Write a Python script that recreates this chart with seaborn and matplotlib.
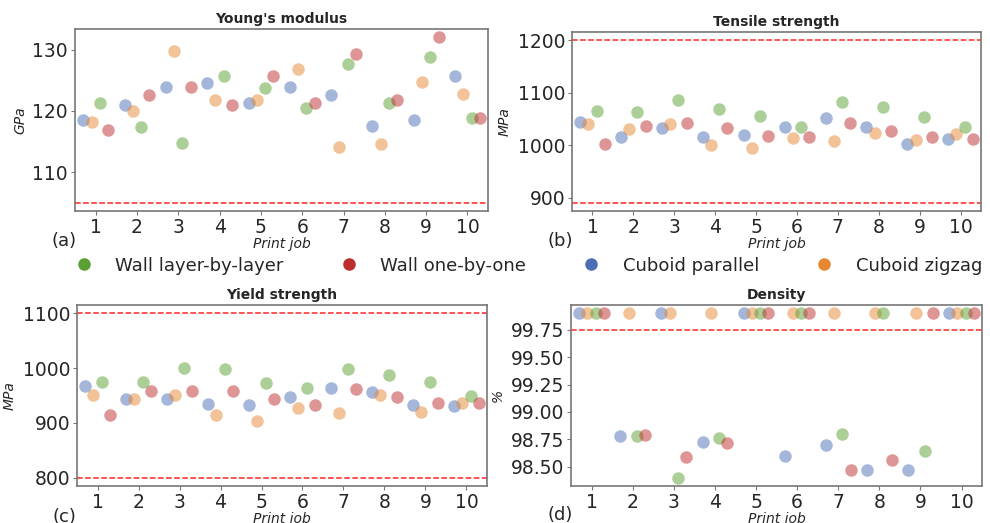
import numpy as np
import pandas as pd
import seaborn as sns
import matplotlib
matplotlib.use("Agg")
from matplotlib import pyplot as plt
from matplotlib.lines import Line2D
from matplotlib.ticker import MultipleLocator, FormatStrFormatter

sns.set_style("white")
plt.rcParams['font.family'] = ['DejaVu Sans']

jobs = [1, 2, 3, 4, 5, 6, 7, 8, 9, 10]
series = ["Cuboid parallel", "Cuboid zigzag", "Wall layer-by-layer", "Wall one-by-one"]
legend_order = ["Wall layer-by-layer", "Wall one-by-one", "Cuboid parallel", "Cuboid zigzag"]
colors = {"Cuboid parallel": "#4b6eb4", "Cuboid zigzag": "#e68732",
          "Wall layer-by-layer": "#5aa032", "Wall one-by-one": "#be2d2d"}

# Young's modulus (GPa)
ym_parallel = [118.5, 120.9, 123.9, 124.6, 121.2, 123.9, 122.6, 117.5, 118.5, 125.7]
ym_zigzag = [118.1, 120.0, 129.7, 121.8, 121.8, 126.9, 114.1, 114.6, 124.7, 122.8]
ym_layer = [121.2, 117.3, 114.8, 125.7, 123.7, 120.5, 127.7, 121.2, 128.7, 118.8]
ym_onebyone = [116.8, 122.5, 123.9, 121.0, 125.7, 121.2, 129.3, 121.8, 132.0, 118.8]

# Tensile strength (MPa)
ts_parallel = [1044, 1015, 1032, 1016, 1020, 1034, 1051, 1035, 1002, 1011]
ts_zigzag = [1041, 1030, 1041, 1001, 994, 1014, 1008, 1024, 1010, 1022]
ts_layer = [1065, 1063, 1085, 1068, 1056, 1035, 1083, 1072, 1053, 1034]
ts_onebyone = [1003, 1037, 1042, 1033, 1018, 1015, 1042, 1027, 1016, 1011]

# Yield strength (MPa)
ys_parallel = [967, 943, 944, 935, 932, 947, 963, 956, 932, 931]
ys_zigzag = [951, 944, 951, 914, 903, 927, 918, 951, 920, 937]
ys_layer = [975, 974, 1000, 999, 973, 963, 999, 988, 974, 949]
ys_onebyone = [914, 959, 959, 959, 943, 932, 962, 947, 937, 937]

# Density (%)
de_parallel = [99.9, 98.78, 99.9, 98.73, 99.9, 98.60, 98.70, 98.47, 98.47, 99.9]
de_zigzag = [99.9, 99.9, 99.9, 99.9, 99.9, 99.9, 99.9, 99.9, 99.9, 99.9]
de_layer = [99.9, 98.78, 98.40, 98.76, 99.9, 99.9, 98.80, 99.9, 98.64, 99.9]
de_onebyone = [99.9, 98.79, 98.59, 98.72, 99.9, 99.9, 98.47, 98.56, 99.9, 99.9]

panels = [
    ("Young's modulus", "GPa", [ym_parallel, ym_zigzag, ym_layer, ym_onebyone], [105], "(a)"),
    ("Tensile strength", "MPa", [ts_parallel, ts_zigzag, ts_layer, ts_onebyone], [1200, 890], "(b)"),
    ("Yield strength", "MPa", [ys_parallel, ys_zigzag, ys_layer, ys_onebyone], [1100, 800], "(c)"),
    ("Density", "%", [de_parallel, de_zigzag, de_layer, de_onebyone], [99.75], "(d)"),
]

positions = [
    [0.0758, 0.5966, 0.4172, 0.3480],
    [0.5778, 0.5966, 0.4131, 0.3422],
    [0.0778, 0.0707, 0.4141, 0.3461],
    [0.5768, 0.0707, 0.4152, 0.3461],
]
label_xy = [(0.052, 0.53), (0.553, 0.53), (0.053, 0.002), (0.553, 0.006)]

fig = plt.figure(figsize=(9.9, 5.23), dpi=100)

for i, ((title, unit, vals, limits, tag), pos, lxy) in enumerate(zip(panels, positions, label_xy)):
    rows = []
    for name, v in zip(series, vals):
        for j, y in zip(jobs, v):
            rows.append({"job": j, "value": y, "series": name})
    df = pd.DataFrame(rows)
    ax = fig.add_axes(pos)
    sns.stripplot(data=df, x="job", y="value", hue="series", hue_order=series,
                  order=jobs, palette=colors, dodge=True, jitter=False,
                  size=9, alpha=0.5, linewidth=0, legend=False, ax=ax)
    for lim in limits:
        ax.axhline(lim, color="red", linestyle="--", linewidth=1.1, alpha=0.85)
    ax.set_title(title, fontsize=10, fontweight="bold", pad=4)
    ax.set_ylabel(unit, fontsize=10, style="italic")
    ax.set_xlabel("Print job", fontsize=10, style="italic", labelpad=0)
    ax.tick_params(axis="both", labelsize=13.5, length=3, color="#777777",
                   direction="out", bottom=True, left=True, pad=2)
    if i == 3:
        ax.yaxis.set_major_locator(MultipleLocator(0.25))
        ax.yaxis.set_major_formatter(FormatStrFormatter("%.2f"))
    for s in ax.spines.values():
        s.set_color("#777777")
        s.set_linewidth(1.2)
    fig.text(lxy[0], lxy[1], tag, fontsize=13)

handles = [Line2D([0], [0], marker="o", linestyle="", markersize=8,
                  markerfacecolor=colors[n], markeredgecolor=colors[n], label=n)
           for n in legend_order]
fig.legend(handles=handles, loc="center", ncol=4, frameon=False, fontsize=13,
           bbox_to_anchor=(0.529, 0.492), columnspacing=2.6, handletextpad=0.75)

plt.savefig("out.png", dpi=100)
